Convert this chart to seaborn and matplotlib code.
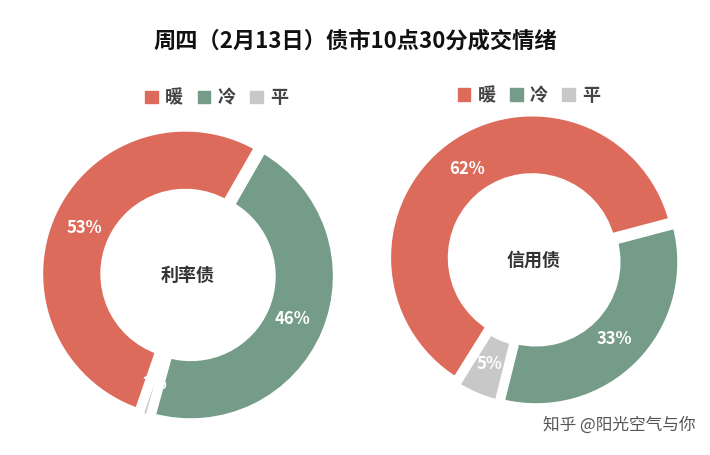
import matplotlib
matplotlib.use("Agg")
import matplotlib.pyplot as plt
import seaborn as sns
import numpy as np
from matplotlib.patches import Patch

sns.set_theme(style="white")
plt.rcParams['font.family'] = ['Noto Sans CJK SC', 'DejaVu Sans']

categories = ["暖", "冷", "平"]
rate_vals = [53, 46, 1]
credit_vals = [62, 33, 5]
centers = ["利率债", "信用债"]
colors = ["#DD6B5B", "#749C88", "#C8C8C8"]

fig = plt.figure(figsize=(7.10, 4.55), dpi=100)
fig.text(0.5, 0.895, "周四（2月13日）债市10点30分成交情绪", ha="center", fontsize=16, fontweight="bold", color="#111111")

axL = fig.add_axes([38/710, 30/455, 300/710, 300/455])
axR = fig.add_axes([385/710, 46/455, 298/710, 298/455])

for ax, vals, name, sa in [(axL, rate_vals, centers[0], -109), (axR, credit_vals, centers[1], -122)]:
    wedges, texts = ax.pie(vals, colors=colors, startangle=sa, counterclock=False,
                           wedgeprops=dict(width=0.44, edgecolor="white", linewidth=5),
                           explode=[0.02, 0.02, 0.02])
    for w, v in zip(wedges, vals):
        ang = np.deg2rad((w.theta1 + w.theta2) / 2)
        r = 0.78
        ax.text(r * np.cos(ang), r * np.sin(ang), f"{v}%", ha="center", va="center",
                fontsize=12, fontweight="bold", color="white")
    ax.text(0, 0, name, ha="center", va="center", fontsize=13, fontweight="bold", color="#333333")
    ax.set_xlim(-1.03, 1.03)
    ax.set_ylim(-1.03, 1.03)
    ax.set_aspect("equal")

handles = [Patch(color=c) for c in colors]
for x, y in [(0.305, 0.785), (0.745, 0.79)]:
    fig.legend(handles, categories, loc="center", bbox_to_anchor=(x, y), ncol=3, frameon=False,
               prop=dict(size=13, weight="bold"), handlelength=0.7, handleheight=0.7, columnspacing=0.8,
               handletextpad=0.4, labelcolor="#444444")
fig.text(0.98, 0.055, "知乎 @阳光空气与你", ha="right", fontsize=12, color="#555555")

fig.savefig("out.png", dpi=100)
